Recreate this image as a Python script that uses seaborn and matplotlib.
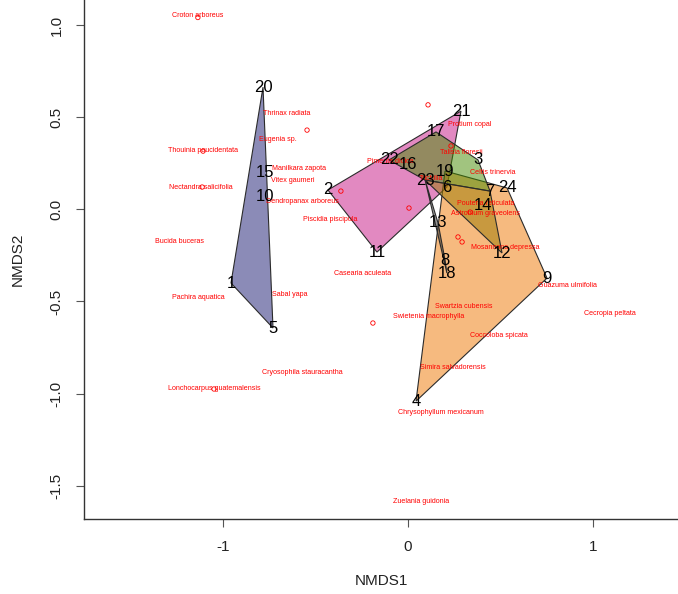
import matplotlib
matplotlib.use("Agg")
import matplotlib.pyplot as plt
from matplotlib.colors import to_rgba
import numpy as np
import pandas as pd
import seaborn as sns

# site scores
site_ids = list(range(1, 25))
site_x = [-0.955, -0.431, 0.380, 0.045, -0.728, 0.212, 0.445, 0.202, 0.753, -0.771, -0.166, 0.510,
          0.164, 0.407, -0.771, 0.002, 0.153, 0.212, 0.202, -0.782, 0.288, -0.101, 0.094, 0.537]
site_y = [-0.400, 0.105, 0.268, -1.041, -0.644, 0.121, 0.099, -0.275, -0.373, 0.067, -0.232, -0.237,
          -0.074, 0.023, 0.202, 0.246, 0.420, -0.346, 0.208, 0.663, 0.533, 0.268, 0.159, 0.116]

# sites enclosed by each hull (as seen on the plot), drawn in this order with alpha 0.5
hull_order = ["slate", "pink", "orange", "green", "gold", "grey"]
hull_sites = {
    "slate": [1, 5, 10, 15, 20],
    "pink": [2, 11, 6, 21],
    "orange": [4, 9, 24, 19],
    "green": [22, 17, 3, 7, 23],
    "gold": [23, 7, 12, 14],
    "grey": [23, 13, 8, 18],
}
hull_colors = {"slate": "#191970", "pink": "#C71585", "orange": "#EE7600",
               "green": "#458B00", "gold": "#9C7A00", "grey": "#333333"}

# species scores (labels)
species_names = ["Croton arboreus", "Thrinax radiata", "Eugenia sp.", "Thouinia paucidentata",
                 "Manilkara zapota", "Vitex gaumeri", "Nectandra salicifolia", "Dendropanax arboreus",
                 "Piscidia piscipula", "Bucida buceras", "Casearia aculeata", "Pachira aquatica",
                 "Sabal yapa", "Cryosophila stauracantha", "Lonchocarpus guatemalensis",
                 "Zuelania guidonia", "Protium copal", "Talisia floresii", "Pimenta dioica",
                 "Celtis trinervia", "Trichilia", "Pouteria reticulata", "Astronium graveolens",
                 "Mosannona depressa", "Guazuma ulmifolia", "Cecropia peltata", "Swartzia cubensis",
                 "Swietenia macrophylla", "Coccoloba spicata", "Simira salvadorensis",
                 "Chrysophyllum mexicanum"]
species_x = [-1.134, -0.652, -0.701, -1.106, -0.588, -0.620, -1.117, -0.571, -0.420, -1.236, -0.242,
             -1.134, -0.636, -0.571, -1.047, 0.072, 0.337, 0.288, -0.096, 0.461, 0.126, 0.423, 0.418,
             0.526, 0.861, 1.094, 0.304, 0.115, 0.493, 0.245, 0.180]
species_y = [1.050, 0.521, 0.381, 0.317, 0.219, 0.159, 0.116, 0.045, -0.053, -0.177, -0.346,
             -0.476, -0.460, -0.883, -0.975, -1.583, 0.462, 0.306, 0.262, 0.202, 0.170, 0.034, -0.025,
             -0.205, -0.416, -0.563, -0.530, -0.584, -0.682, -0.861, -1.100]

# species drawn as open points
point_x = [-1.134, -0.544, -1.106, -1.111, -1.047, 0.110, -0.361, 0.007, 0.234, 0.337, 0.272, 0.294, -0.188]
point_y = [1.041, 0.430, 0.316, 0.121, -0.975, 0.567, 0.099, 0.007, 0.344, -0.015, -0.150, -0.177, -0.617]


def convex_hull(pts):
    pts = sorted(map(tuple, pts))
    if len(pts) < 3:
        return np.array(pts)

    def cross(o, a, b):
        return (a[0] - o[0]) * (b[1] - o[1]) - (a[1] - o[1]) * (b[0] - o[0])

    lower, upper = [], []
    for p in pts:
        while len(lower) >= 2 and cross(lower[-2], lower[-1], p) <= 0:
            lower.pop()
        lower.append(p)
    for p in reversed(pts):
        while len(upper) >= 2 and cross(upper[-2], upper[-1], p) <= 0:
            upper.pop()
        upper.append(p)
    return np.array(lower[:-1] + upper[:-1])


sns.set_theme(style="white")
plt.rcParams["font.family"] = ["Liberation Sans", "DejaVu Sans"]
plt.rcParams["axes.unicode_minus"] = False

sites = pd.DataFrame({"site": site_ids, "NMDS1": site_x, "NMDS2": site_y}).set_index("site")
species = pd.DataFrame({"name": species_names, "NMDS1": species_x, "NMDS2": species_y})

fig = plt.figure(figsize=(6.78, 5.94), dpi=100)
ax = fig.add_axes([0.1243, 0.1258, 0.8757, 0.8742])

for g in hull_order:
    h = convex_hull(sites.loc[hull_sites[g], ["NMDS1", "NMDS2"]].to_numpy())
    ax.fill(h[:, 0], h[:, 1], facecolor=to_rgba(hull_colors[g], 0.5),
            edgecolor="#2b2b2b", linewidth=0.8, zorder=2)

sns.scatterplot(x=point_x, y=point_y, marker="o", s=10, color="red", facecolor="none",
                edgecolor="red", linewidth=0.6, ax=ax, zorder=3)

for _, r in species.iterrows():
    ax.text(r["NMDS1"], r["NMDS2"], r["name"], color="red", fontsize=5.1,
            ha="center", va="center", zorder=4)

for site, r in sites.iterrows():
    ax.text(r["NMDS1"], r["NMDS2"], str(site), color="black", fontsize=12,
            ha="center", va="center", zorder=5)

ax.set_xlim(-1.748, 1.461)
ax.set_ylim(-1.682, 1.136)
ax.set_xticks([-1, 0, 1])
ax.set_xticklabels(["-1", "0", "1"])
ax.set_yticks([-1.5, -1.0, -0.5, 0.0, 0.5, 1.0])
ax.set_yticklabels(["-1.5", "-1.0", "-0.5", "0.0", "0.5", "1.0"], rotation=90, va="center")
ax.tick_params(direction="out", length=6, width=0.8, color="#555555", labelsize=11,
               labelcolor="#222222", bottom=True, left=True, pad=9)
for side in ["top", "right"]:
    ax.spines[side].set_visible(False)
for side in ["left", "bottom"]:
    ax.spines[side].set_color("#333333")
    ax.spines[side].set_linewidth(1.0)

ax.set_xlabel("NMDS1", fontsize=11, color="#222222", labelpad=14)
ax.set_ylabel("NMDS2", fontsize=11, color="#222222", labelpad=18)

fig.savefig("out.png", dpi=100)
